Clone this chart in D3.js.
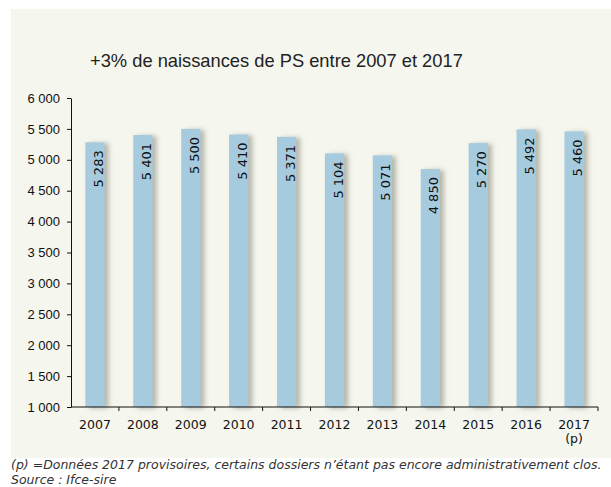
<!DOCTYPE html>
<html>
<head>
<meta charset="utf-8">
<script src="https://cdn.jsdelivr.net/npm/d3@7"></script>
<style>
    body { margin: 0; background: #fff; }
    svg { display: block; font-family: 'DejaVu Sans', Verdana, sans-serif; }
</style>
</head>
<body>
<div id="chart"></div>
<script>
const years = ['2007', '2008', '2009', '2010', '2011', '2012', '2013', '2014', '2015', '2016', '2017']
const births = [5283, 5401, 5500, 5410, 5371, 5104, 5071, 4850, 5270, 5492, 5460]
const yTicks = [1000, 1500, 2000, 2500, 3000, 3500, 4000, 4500, 5000, 5500, 6000]

const width = 611
const height = 487
const margin = { top: 98, right: 13, bottom: 80, left: 71 }

const fmt = v => d3.format(',')(v).replace(/,/g, ' ')

const svg = d3.select('#chart')
    .append('svg')
    .attr('width', width)
    .attr('height', height)

// soft grey shadow on the right of each bar
const defs = svg.append('defs')
const shadow = defs.append('filter')
    .attr('id', 'shadow')
    .attr('x', '-30%').attr('y', '-5%')
    .attr('width', '180%').attr('height', '110%')
shadow.append('feDropShadow')
    .attr('dx', 4).attr('dy', 1)
    .attr('stdDeviation', 2.6)
    .attr('flood-color', '#8a8a78')
    .attr('flood-opacity', 0.6)

// panel background
svg.append('rect')
    .attr('x', 11).attr('y', 9)
    .attr('width', width - 11).attr('height', 449)
    .attr('fill', '#f5f6ee')

const title = svg.append('text')
    .attr('x', 90).attr('y', 67)
    .attr('font-size', 18)
    .attr('fill', '#222')
    .style('font-family', "'Liberation Sans', Arial, sans-serif")
    .text('+3% de naissances de PS entre 2007 et 2017')
// fit the title to about the width it has in the original
const tw = title.node().getComputedTextLength()
title.attr('font-size', 18 * 373 / tw)

const x = d3.scaleBand()
    .domain(years)
    .range([margin.left, width - margin.right])
    .paddingInner(0.6)
    .paddingOuter(0.3)

const y = d3.scaleLinear()
    .domain([1000, 6000])
    .range([height - margin.bottom, margin.top])

const bars = svg.append('g')
bars.selectAll('rect')
    .data(births)
    .enter()
    .append('rect')
    .attr('x', (d, i) => x(years[i]))
    .attr('y', d => y(d))
    .attr('width', x.bandwidth())
    .attr('height', d => y(1000) - y(d))
    .attr('fill', '#a6cbdf')
    .attr('filter', 'url(#shadow)')

bars.selectAll('text')
    .data(births)
    .enter()
    .append('text')
    .attr('transform', (d, i) => `translate(${x(years[i]) + x.bandwidth() / 2 + 8},${y(d) + 8}) rotate(-90)`)
    .attr('text-anchor', 'end')
    .attr('font-size', 13)
    .attr('fill', '#111')
    .text(d => fmt(d))

// y axis
const yAxis = svg.append('g')
    .attr('transform', `translate(${margin.left},0)`)
    .call(d3.axisLeft(y).tickValues(yTicks).tickFormat(fmt).tickSize(4).tickSizeOuter(0))
yAxis.select('.domain').attr('stroke', '#111')
yAxis.selectAll('line').attr('stroke', '#111')
yAxis.selectAll('text')
    .attr('font-size', 13)
    .attr('fill', '#111')
    .attr('x', -11)

// x axis: ticks at category boundaries
const step = x.step()
const xAxisG = svg.append('g')
    .attr('transform', `translate(0,${y(1000)})`)
xAxisG.append('line')
    .attr('x1', margin.left).attr('x2', width - margin.right)
    .attr('stroke', '#111')
xAxisG.selectAll('.tick-b')
    .data(years)
    .enter()
    .append('line')
    .attr('x1', d => x(d) + x.bandwidth() / 2 + step / 2)
    .attr('x2', d => x(d) + x.bandwidth() / 2 + step / 2)
    .attr('y1', 0).attr('y2', 4)
    .attr('stroke', '#111')
xAxisG.selectAll('.lbl')
    .data(years)
    .enter()
    .append('text')
    .attr('x', d => x(d) + x.bandwidth() / 2)
    .attr('y', 22)
    .attr('text-anchor', 'middle')
    .attr('font-size', 12.5)
    .attr('fill', '#111')
    .text(d => d)
xAxisG.append('text')
    .attr('x', x('2017') + x.bandwidth() / 2)
    .attr('y', 36)
    .attr('text-anchor', 'middle')
    .attr('font-size', 12.5)
    .attr('fill', '#111')
    .text('(p)')

const notes = svg.append('g')
    .attr('font-size', 12.5)
    .attr('font-style', 'italic')
    .attr('fill', '#333')
notes.append('text').attr('x', 11).attr('y', 469)
    .text('(p) =Données 2017 provisoires, certains dossiers n’étant pas encore administrativement clos.')
notes.append('text').attr('x', 11).attr('y', 484)
    .text('Source : Ifce-sire')
</script>
</body>
</html>
